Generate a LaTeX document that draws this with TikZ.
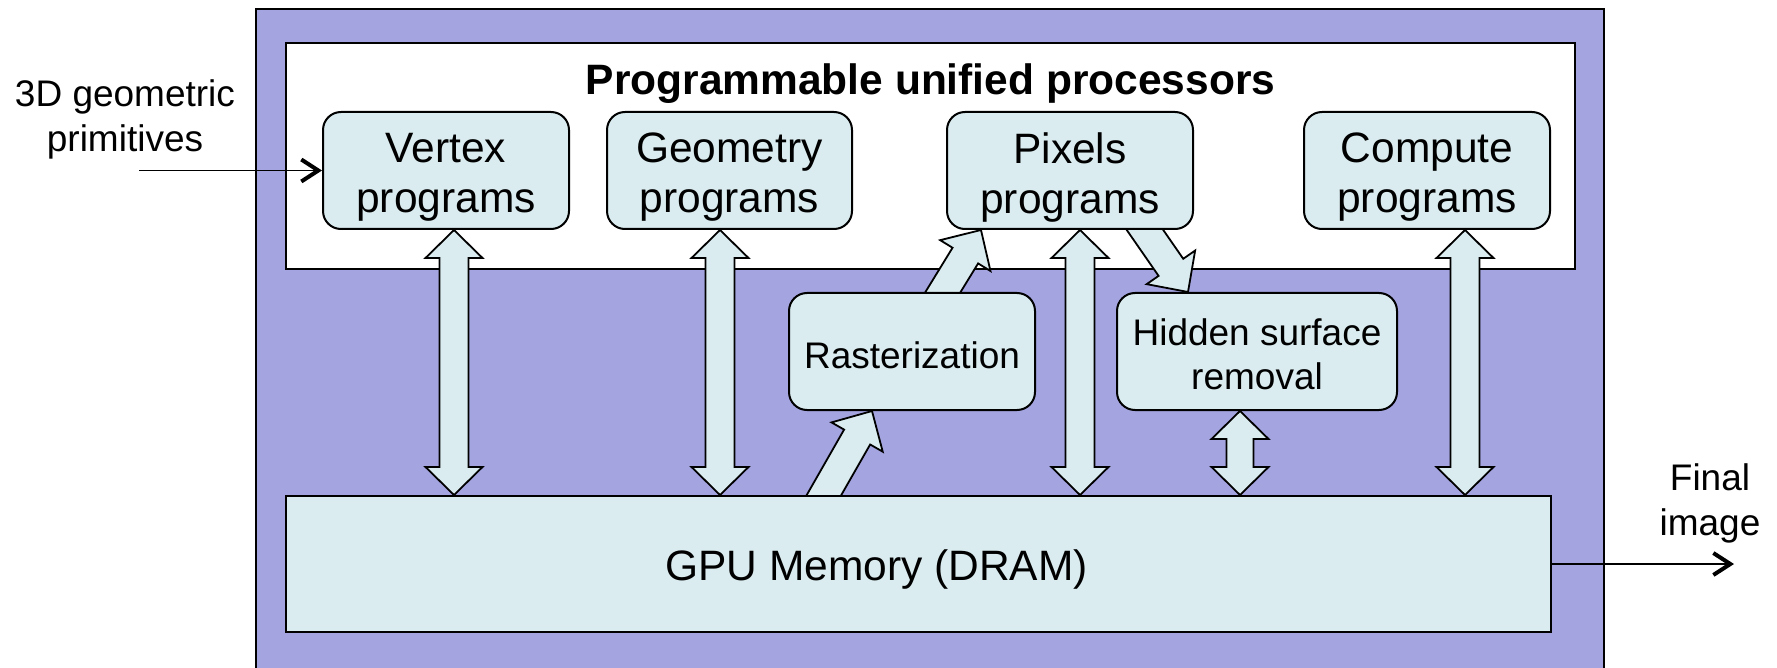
\documentclass[tikz,border=0pt]{standalone}
\usepackage{fontspec}
\setmainfont{Liberation Sans}
\usetikzlibrary{calc,arrows.meta}
\definecolor{gpupurple}{RGB}{164,164,224}
\definecolor{boxfill}{RGB}{218,236,239}
\pgfdeclarelayer{bg}
\pgfdeclarelayer{arr}
\pgfsetlayers{bg,arr,main}
\tikzset{
  pbox/.style={draw, line width=2pt, fill=boxfill, rounded corners=18pt, minimum width=246pt, minimum height=117pt, inner sep=0pt},
  bigtxt/.style={align=center, inner sep=0pt, font=\fontsize{42.5}{50}\selectfont},
  smalltxt/.style={align=center, inner sep=0pt, font=\fontsize{37}{44}\selectfont},
  fat/.style={draw, line width=1.8pt, fill=boxfill, line join=miter},
  lbl/.style={align=center, inner sep=0pt, font=\fontsize{37}{45}\selectfont},
  thinarr/.style={line width=1.7pt, -{Straight Barb[length=17pt,width=22pt,line width=4pt]}}
}
\newcommand\fatdouble[4]{%
 \draw[fat] let \p1=#1, \p2=#2, \n1={atan2(\y2-\y1,\x2-\x1)}, \n2={veclen(\x2-\x1,\y2-\y1)} in
 [shift={(\p1)}, rotate=\n1] (0,0) -- (28,#4) -- (28,#3) -- (\n2-28,#3) -- (\n2-28,#4) -- (\n2,0) -- (\n2-28,-#4) -- (\n2-28,-#3) -- (28,-#3) -- (28,-#4) -- cycle;}
\newcommand\fatsingle[4]{%
 \draw[fat] let \p1=#1, \p2=#2, \n1={atan2(\y2-\y1,\x2-\x1)}, \n2={veclen(\x2-\x1,\y2-\y1)} in
 [shift={(\p1)}, rotate=\n1] (-12,#3) -- (\n2-30,#3) -- (\n2-30,#4) -- (\n2,0) -- (\n2-30,-#4) -- (\n2-30,-#3) -- (-12,-#3) -- cycle;}
\begin{document}
\begin{tikzpicture}[x=1pt,y=-1pt]
\useasboundingbox (0,0) rectangle (1777,668);
\begin{pgfonlayer}{bg}
\node[draw, line width=2pt, fill=gpupurple, minimum width=1348pt, minimum height=700pt, inner sep=0pt] (chip) at (930,359) {};
\node[draw, line width=2pt, fill=white, minimum width=1289pt, minimum height=226pt, inner sep=0pt] (proc) at (930.5,156) {};
\end{pgfonlayer}
\node[font=\bfseries\fontsize{42.5}{48}\selectfont, anchor=base, inner sep=0pt] (title) at (930.5,95) {Programmable unified processors};
\node[pbox, label={[bigtxt, yshift=-7pt]center:{Vertex\\programs}}] (vtx) at (446,170.5) {};
\node[pbox, minimum width=245pt, label={[bigtxt, yshift=-7pt]center:{Geometry\\programs}}] (geo) at (729.5,170.5) {};
\node[pbox, label={[bigtxt, yshift=-7pt]center:{Pixels\\programs}}] (pix) at (1070,170.5) {};
\node[pbox, label={[bigtxt, yshift=-7pt]center:{Compute\\programs}}] (cmp) at (1427,170.5) {};
\node[pbox, label={[smalltxt, yshift=-3.5pt]center:Rasterization}] (rast) at (912,351.5) {};
\node[pbox, minimum width=280pt, label={[smalltxt, yshift=-2.8pt]center:{Hidden surface\\removal}}] (hid) at (1257,351.5) {};
\node[draw, line width=2pt, fill=boxfill, minimum width=1265pt, minimum height=136pt, inner sep=0pt, label={[bigtxt, xshift=-42pt, yshift=-5.7pt]center:GPU Memory (DRAM)}] (gpu) at (918.5,564) {};
\node[lbl] (inlbl) at (125,119.5) {3D geometric\\primitives};
\node[lbl] (outlbl) at (1710,503) {Final\\image};
\coordinate (in) at (139,170.5);
\coordinate (out) at (1734,564);
\draw[thinarr] (in) -- (vtx.west);
\draw[thinarr] (gpu.east) -- (out);
\coordinate (a1) at ($(vtx.south)+(8,0)$);
\coordinate (a2) at (a1 |- gpu.north);
\coordinate (b1) at ($(geo.south)+(-9.5,0)$);
\coordinate (b2) at (b1 |- gpu.north);
\coordinate (c1) at ($(pix.south)+(10,0)$);
\coordinate (c2) at (c1 |- gpu.north);
\coordinate (d1) at ($(cmp.south)+(38,0)$);
\coordinate (d2) at (d1 |- gpu.north);
\coordinate (e1) at ($(hid.south)+(-17,0)$);
\coordinate (e2) at (e1 |- gpu.north);
\coordinate (f1) at ($(gpu.north)+(-94.5,0)$);
\coordinate (f2) at ($(rast.south)+(-40,0)$);
\coordinate (g1) at ($(rast.north)+(31,0)$);
\coordinate (g2) at ($(pix.south)+(-89,0)$);
\coordinate (h1) at ($(pix.south)+(75,0)$);
\coordinate (h2) at ($(hid.north)+(-69,0)$);
\begin{pgfonlayer}{arr}
\fatdouble{(a1)}{(a2)}{14.5}{28.5}
\fatdouble{(b1)}{(b2)}{14.5}{28.5}
\fatdouble{(c1)}{(c2)}{14.5}{28.5}
\fatdouble{(d1)}{(d2)}{14.5}{28.5}
\fatdouble{(e1)}{(e2)}{13.5}{28.5}
\fatsingle{(f1)}{(f2)}{15}{29.5}
\fatsingle{(g1)}{(g2)}{15}{29.5}
\fatsingle{(h1)}{(h2)}{15}{29.5}
\end{pgfonlayer}
\end{tikzpicture}
\end{document}
